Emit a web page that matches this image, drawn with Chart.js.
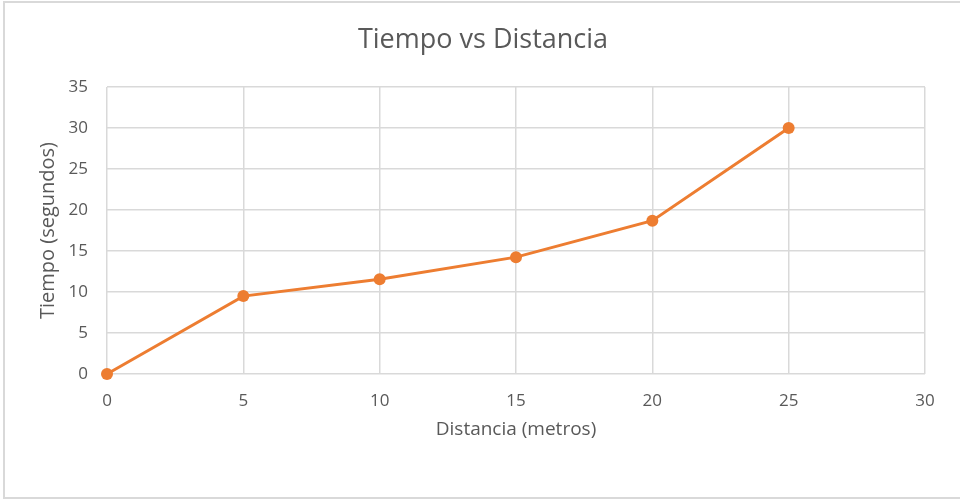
<!DOCTYPE html>
<html>
<head>
<meta charset="utf-8">
<script src="https://cdn.jsdelivr.net/npm/chart.js@4.4.1/dist/chart.umd.min.js"></script>
<style>
  html, body { margin: 0; padding: 0; background: #fff; }
  #wrap { position: relative; width: 960px; height: 503px; }
  #frame { position: absolute; left: 3px; top: 1px; width: 970px; height: 498px;
           border: 2px solid #d9d9d9; box-sizing: border-box; pointer-events: none; }
  canvas { position: absolute; left: 0; top: 0; }
</style>
</head>
<body>
<div id="wrap">
  <canvas id="chart" width="960" height="503"></canvas>
  <div id="frame"></div>
</div>
<script>
// Distance travelled (m) and elapsed time (s)
const distancia = [0, 5, 10, 15, 20, 25];
const tiempo = [0, 9.5, 11.55, 14.25, 18.7, 30];

const chartTitle = 'Tiempo vs Distancia';
const xTitle = 'Distancia (metros)';
const yTitle = 'Tiempo (segundos)';

const textColor = '#595959';
const gridColor = '#d9d9d9';
const lineColor = '#ed7d31';
const family = '"Open Sans", Lato, sans-serif';

const points = distancia.map((x, i) => ({ x: x, y: tiempo[i] }));

new Chart(document.getElementById('chart'), {
  type: 'scatter',
  data: {
    datasets: [{
      data: points,
      showLine: true,
      clip: false,
      borderColor: lineColor,
      backgroundColor: lineColor,
      borderWidth: 3,
      pointRadius: 6,
      pointBorderWidth: 0,
      pointHoverRadius: 6,
      tension: 0
    }]
  },
  options: {
    responsive: false,
    animation: false,
    layout: { padding: { left: 41, right: 35, top: 0, bottom: 0 } },
    plugins: {
      legend: { display: false },
      tooltip: { enabled: false },
      title: {
        display: true,
        text: chartTitle,
        color: textColor,
        font: { family: family, size: 27, weight: 'normal' },
        padding: { top: 24, bottom: 30.6 }
      }
    },
    scales: {
      x: {
        type: 'linear',
        min: 0, max: 30,
        afterFit: (s) => { s.height = 129; },
        border: { display: false },
        grid: { color: gridColor, lineWidth: 1.5, drawTicks: false },
        ticks: { stepSize: 5, padding: 17, color: textColor,
                 font: { family: family, size: 17 } },
        title: { display: true, text: xTitle, color: textColor,
                 font: { family: family, size: 19 },
                 padding: { top: 0, bottom: 62 } }
      },
      y: {
        type: 'linear',
        min: 0, max: 35,
        afterFit: (s) => { s.width = 66; },
        border: { display: false },
        grid: { color: gridColor, lineWidth: 1.5, drawTicks: false },
        ticks: { stepSize: 5, padding: 19, color: textColor,
                 font: { family: family, size: 17 } },
        title: { display: true, text: yTitle, color: textColor,
                 font: { family: family, size: 20 },
                 padding: { top: -4.5, bottom: 0 } }
      }
    }
  }
});
</script>
</body>
</html>
